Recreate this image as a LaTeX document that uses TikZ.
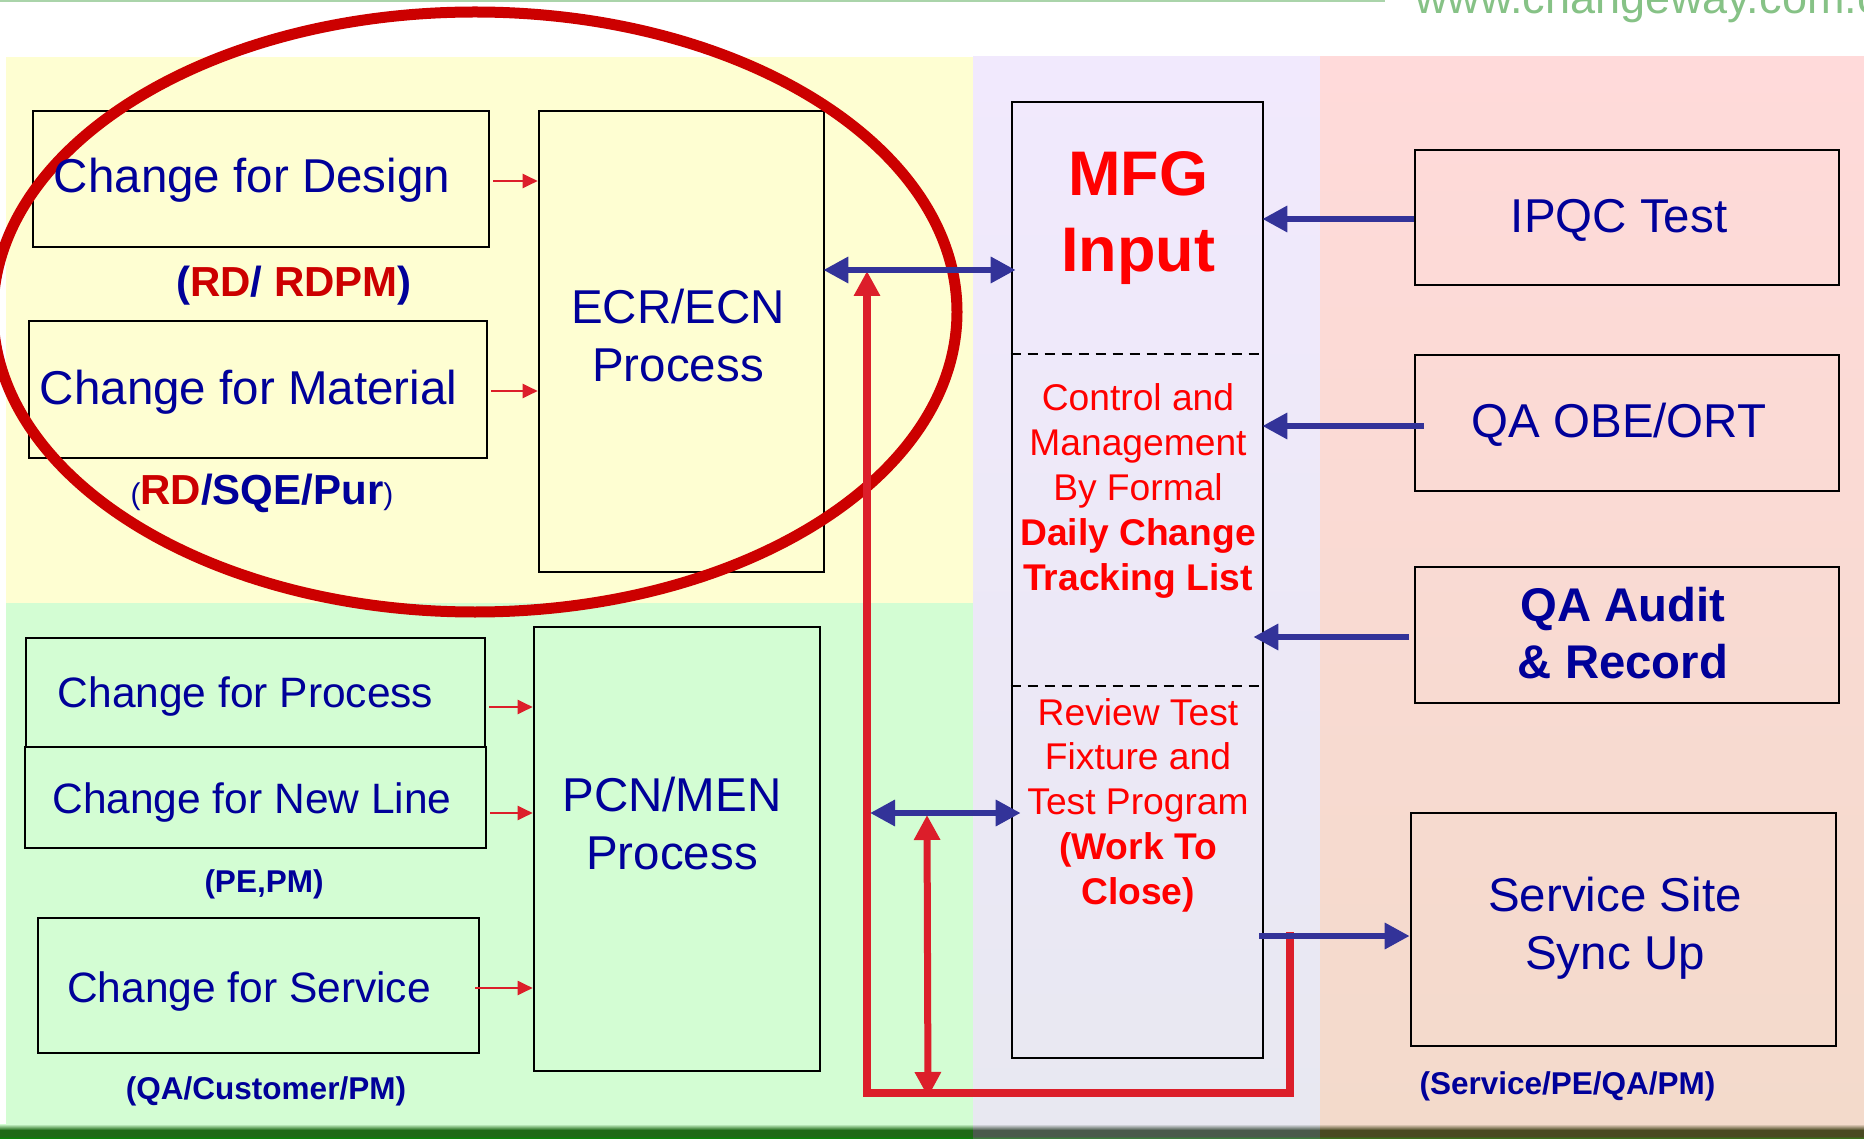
\documentclass[tikz,border=0pt]{standalone}
\usepackage{fontspec}
\setmainfont{Liberation Sans}
\usetikzlibrary{arrows.meta}
\definecolor{navy}{HTML}{000099}
\definecolor{dred}{HTML}{CC0000}
\definecolor{brred}{HTML}{FF0000}
\definecolor{arrred}{HTML}{DC1E2A}
\definecolor{arrblue}{HTML}{333399}
\definecolor{ellred}{HTML}{CC0000}
\definecolor{pyellow}{HTML}{FEFED2}
\definecolor{pgreen}{HTML}{D3FDD3}
\definecolor{ppurpletop}{HTML}{F1E9FD}
\definecolor{ppurplebot}{HTML}{E8E8F1}
\definecolor{ppinktop}{HTML}{FFDADA}
\definecolor{ppinkbot}{HTML}{F3DACB}
\definecolor{wmgreen}{HTML}{86C286}
\definecolor{barL}{HTML}{1E6A16}
\definecolor{barM}{HTML}{4A5A4C}
\definecolor{barR}{HTML}{4A4A22}
\newcommand{\myfs}[2]{\fontsize{#1}{#2}\selectfont}
\tikzset{
  boxn/.style={draw=black, line width=2.6pt, inner sep=0pt, rectangle},
  txtbig/.style={text=navy, font=\myfs{47.5}{58}, align=center, inner sep=0pt},
  txtmid/.style={text=navy, font=\myfs{42.5}{51}, align=center, inner sep=0pt},
  lblbig/.style={text=navy, font=\myfs{42}{50}\bfseries, inner sep=0pt},
  lblsmall/.style={text=navy, font=\myfs{31.5}{38}\bfseries, inner sep=0pt},
  mfgtxt/.style={text=brred, font=\myfs{63}{76}\bfseries, align=center, inner sep=0pt},
  redtxt/.style={text=brred, font=\myfs{37.2}{44.8}, align=center, inner sep=0pt},
  divider/.style={draw=black, line width=2pt, dash pattern=on 10pt off 7pt},
  redsmall/.style={draw=arrred, line width=2pt, -{Triangle[length=15pt,width=14pt]}},
  bluearr/.style={draw=arrblue, line width=6.5pt, -{Triangle[length=25pt,width=25pt]}},
  bluedbl/.style={draw=arrblue, line width=6.5pt, {Triangle[length=25pt,width=25pt]}-{Triangle[length=25pt,width=25pt]}},
  redbig/.style={draw=arrred, line width=8pt, line join=miter},
  reddbl/.style={draw=arrred, line width=7pt, {Triangle[length=25pt,width=25pt]}-{Triangle[length=25pt,width=25pt]}},
}
\begin{document}
\begin{tikzpicture}[x=1pt,y=-1pt]
\useasboundingbox (0,0) rectangle (1864,1139);
% backgrounds
\fill[white] (0,0) rectangle (1864,1139);
\draw[draw=wmgreen!70, line width=2pt] (0,1) -- (1385,1);
\begin{scope}
  \clip (1400,0) rectangle (1864,57);
  \node[anchor=base west, text=wmgreen, font=\myfs{45}{50}, inner sep=0pt] (wm) at (1415,14) {www.changeway.com.cn};
\end{scope}
\fill[pyellow] (6,57) rectangle (973,603);
\fill[pgreen] (6,603) rectangle (973,1127);
\shade[top color=ppurpletop, bottom color=ppurplebot] (973,57) rectangle (1320,1127);
\shade[top color=ppinktop, bottom color=ppinkbot] (1320,57) rectangle (1864,1127);
% bottom bar
\shade[top color=pgreen, bottom color=barL] (0,1124) rectangle (973,1130);
\fill[barL] (0,1130) rectangle (973,1136);
\shade[top color=barL, bottom color=green!55!black] (0,1136) rectangle (973,1139);
\shade[top color=ppurplebot, bottom color=barM] (973,1124) rectangle (1320,1130);
\fill[barM] (973,1130) rectangle (1320,1136);
\shade[top color=barM, bottom color=barM!70!green] (973,1136) rectangle (1320,1139);
\shade[top color=ppinkbot, bottom color=barR] (1320,1124) rectangle (1864,1130);
\fill[barR] (1320,1130) rectangle (1864,1136);
\shade[top color=barR, bottom color=barR!70!green] (1320,1136) rectangle (1864,1139);

% boxes
\node[boxn, minimum width=456pt, minimum height=136pt] (design) at (261,179) {};
\node[boxn, minimum width=458pt, minimum height=137pt] (material) at (258,389.5) {};
\node[boxn, minimum width=285pt, minimum height=461pt] (ecr) at (681.5,341.5) {};
\node[boxn, minimum width=459pt, minimum height=109pt] (process) at (255.5,692.5) {};
\node[boxn, minimum width=461pt, minimum height=101pt] (newline) at (255.5,797.5) {};
\node[boxn, minimum width=441pt, minimum height=135pt] (service) at (258.5,985.5) {};
\node[boxn, minimum width=286pt, minimum height=444pt] (pcn) at (677,849) {};
\node[boxn, minimum width=251pt, minimum height=956pt] (mfg) at (1137.5,580) {};
\node[boxn, minimum width=424pt, minimum height=135pt] (ipqc) at (1627,217.5) {};
\node[boxn, minimum width=424pt, minimum height=136pt] (qaobe) at (1627,423) {};
\node[boxn, minimum width=424pt, minimum height=136pt] (qaaudit) at (1627,635) {};
\node[boxn, minimum width=425pt, minimum height=233pt] (site) at (1623.5,929.5) {};

% MFG dividers
\draw[divider] ([yshift=-253pt]mfg.north west) -- ([yshift=-253pt]mfg.north east);
\draw[divider] ([yshift=-585pt]mfg.north west) -- ([yshift=-585pt]mfg.north east);

% ellipse highlight
\draw[draw=ellred, line width=11pt] (475,312) ellipse [x radius=482pt, y radius=300pt];

% texts
\node[txtbig, anchor=base] (designT) at (252,193) {Change for Design};
\node[txtbig, anchor=base] (materialT) at (248.5,405) {Change for Material};
\node[txtmid, anchor=base] (processT) at (245.5,707) {Change for Process};
\node[txtmid, anchor=base] (newlineT) at (252,813) {Change for New Line};
\node[txtmid, anchor=base] (serviceT) at (249,1002) {Change for Service};
\node[txtbig] (ecrT) at (678,336) {ECR/ECN\\Process};
\node[txtbig] (pcnT) at (672,824) {PCN/MEN\\Process};
\node[txtbig, anchor=base] (ipqcT) at (1619,233) {IPQC Test};
\node[txtbig, anchor=base] (qaobeT) at (1619,438) {QA OBE/ORT};
\node[txtbig, font=\myfs{47.3}{57}\bfseries] (qaauditT) at (1623,633) {QA Audit\\\& Record};
\node[txtbig] (siteT) at (1615,928) {Service Site\\Sync Up};
\node[mfgtxt] (mfgT) at (1138,218) {MFG\\Input};
\node[redtxt] (ctrlT) at (1138,491) {Control and\\Management\\By Formal\\\textbf{Daily Change}\\\textbf{Tracking List}};
\node[redtxt] (reviewT) at (1138,805) {Review Test\\Fixture and\\Test Program\\\textbf{(Work To}\\\textbf{Close)}};

% owner labels
\node[lblbig, anchor=base] (lblDesign) at (294,297) {(\textcolor{dred}{RD}/ \textcolor{dred}{RDPM})};
\node[lblbig, anchor=base] (lblMaterial) at (262,504) {{\myfs{30}{36}\mdseries(}\textcolor{dred}{RD}/SQE/Pur{\myfs{30}{36}\mdseries)}};
\node[lblsmall, anchor=base] (lblPEPM) at (264,892) {(PE,PM)};
\node[lblsmall, anchor=base] (lblQACust) at (266,1099) {(QA/Customer/PM)};
\node[lblsmall, anchor=base] (lblSite) at (1567.5,1094) {(Service/PE/QA/PM)};

% small red arrows into process boxes
\coordinate (sDesign) at ([xshift=3pt,yshift=-2pt]design.east);
\coordinate (sMaterial) at ([xshift=3pt,yshift=-1.5pt]material.east);
\coordinate (sProcess) at ([xshift=3pt,yshift=-14.5pt]process.east);
\coordinate (sNewline) at ([xshift=3pt,yshift=-15.5pt]newline.east);
\coordinate (sService) at ([xshift=-5pt,yshift=-2.5pt]service.east);
\draw[redsmall] (sDesign) -- (ecr.west |- sDesign);
\draw[redsmall] (sMaterial) -- (ecr.west |- sMaterial);
\draw[redsmall] (sProcess) -- (pcn.west |- sProcess);
\draw[redsmall] (sNewline) -- (pcn.west |- sNewline);
\draw[redsmall] (sService) -- (pcn.west |- sService);

% red feedback loop
\coordinate (loopstart) at (1290,932);
\coordinate (loopcorner) at (867,1093);
\coordinate (ecrmid) at (867,270);
\coordinate (pcnmid) at (870,813);
\coordinate (dtop) at (927,815);
\coordinate (dbot) at (928,1097);
\draw[redbig, -{Triangle[length=25pt,width=25pt]}] (loopstart) |- (loopcorner) -- ([yshift=-1pt]ecrmid);
\draw[reddbl] (dtop) -- (dbot);

% blue connectors
\coordinate (sIpqc) at ([yshift=-1.5pt]ipqc.west);
\coordinate (sQaobe) at ([xshift=10pt,yshift=-3pt]qaobe.west);
\coordinate (sQaaudit) at ([xshift=-5pt,yshift=-2pt]qaaudit.west);
\coordinate (mfgout) at (1259,936);
\draw[bluedbl] ([xshift=-2pt]ecr.east |- ecrmid) -- ([xshift=5pt]mfg.west |- ecrmid);
\draw[bluedbl] (pcnmid) -- ([xshift=10pt]mfg.west |- pcnmid);
\draw[bluearr] (sIpqc) -- ([xshift=-2pt]mfg.east |- sIpqc);
\draw[bluearr] (sQaobe) -- ([xshift=-2pt]mfg.east |- sQaobe);
\draw[bluearr] (sQaaudit) -- ([xshift=-11pt]mfg.east |- sQaaudit);
\draw[bluearr] (mfgout) -- (site.west |- mfgout);
\end{tikzpicture}
\end{document}
